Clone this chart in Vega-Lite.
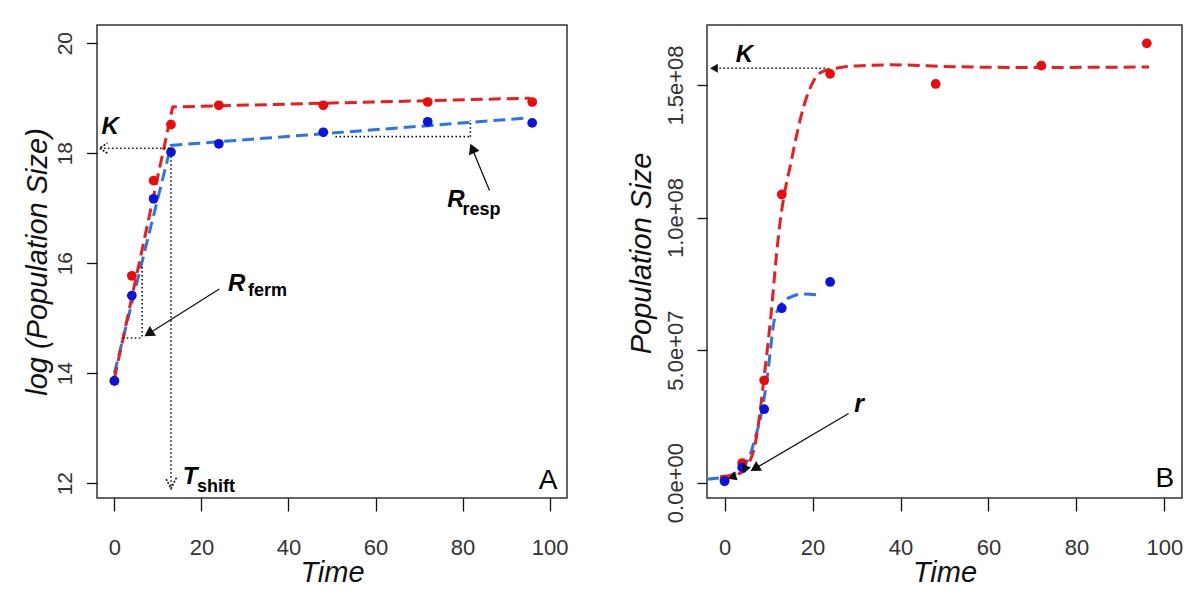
{
  "$schema": "https://vega.github.io/schema/vega-lite/v6.json",
  "padding": {"left": 22, "top": 24, "right": 5, "bottom": 5},
  "background": "white",
  "spacing": 140,
  "bounds": "flush",
  "config": {
    "view": {"stroke": "#333333", "strokeWidth": 1.5},
    "axis": {
      "domain": false, "grid": false, "tickColor": "#111111", "tickWidth": 1.3,
      "labelFont": "Liberation Sans Narrow, Liberation Sans, Arial", "labelColor": "#333333", "labelFontWeight": "normal",
      "titleFont": "Liberation Sans", "titleFontStyle": "italic", "titleFontWeight": "normal", "titleFontSize": 29, "titleColor": "#111111"
    }
  },
  "datasets": {
    "ptsA": [
      {"series": "red", "t": 0, "v": 13.86}, {"series": "red", "t": 4, "v": 15.77}, {"series": "red", "t": 9, "v": 17.5}, {"series": "red", "t": 13, "v": 18.52},
      {"series": "red", "t": 24, "v": 18.87}, {"series": "red", "t": 48, "v": 18.87}, {"series": "red", "t": 72, "v": 18.93}, {"series": "red", "t": 96, "v": 18.93},
      {"series": "blue", "t": 0, "v": 13.86}, {"series": "blue", "t": 4, "v": 15.41}, {"series": "blue", "t": 9, "v": 17.17}, {"series": "blue", "t": 13, "v": 18.02},
      {"series": "blue", "t": 24, "v": 18.17}, {"series": "blue", "t": 48, "v": 18.38}, {"series": "blue", "t": 72, "v": 18.57}, {"series": "blue", "t": 96, "v": 18.55}
    ],
    "fitA": [
      {"series": "red", "t": 0, "v": 13.9}, {"series": "red", "t": 13.4, "v": 18.84}, {"series": "red", "t": 95.5, "v": 19.0},
      {"series": "blue", "t": 0, "v": 14.0}, {"series": "blue", "t": 13.0, "v": 18.14}, {"series": "blue", "t": 95, "v": 18.64}
    ],
    "ptsB": [
      {"series": "red", "t": 0, "v": 1100000}, {"series": "red", "t": 4, "v": 7400000}, {"series": "red", "t": 9, "v": 38600000}, {"series": "red", "t": 13, "v": 108700000},
      {"series": "red", "t": 24, "v": 154200000}, {"series": "red", "t": 48, "v": 150400000}, {"series": "red", "t": 72, "v": 157300000}, {"series": "red", "t": 96, "v": 165700000},
      {"series": "blue", "t": 0, "v": 500000}, {"series": "blue", "t": 4, "v": 5700000}, {"series": "blue", "t": 9, "v": 27700000}, {"series": "blue", "t": 13, "v": 65800000},
      {"series": "blue", "t": 24, "v": 75700000}
    ],
    "fitB": [
      {"series": "red", "t": -1, "v": 2200000}, {"series": "red", "t": 2, "v": 2800000}, {"series": "red", "t": 4, "v": 4000000}, {"series": "red", "t": 5.5, "v": 7200000},
      {"series": "red", "t": 7.0, "v": 15000000}, {"series": "red", "t": 8.2, "v": 28500000}, {"series": "red", "t": 8.9, "v": 38600000}, {"series": "red", "t": 9.7, "v": 50000000},
      {"series": "red", "t": 10.5, "v": 62400000}, {"series": "red", "t": 11.2, "v": 75000000}, {"series": "red", "t": 11.8, "v": 86000000}, {"series": "red", "t": 12.6, "v": 98000000},
      {"series": "red", "t": 13.5, "v": 108000000}, {"series": "red", "t": 15, "v": 120000000}, {"series": "red", "t": 16.5, "v": 132000000}, {"series": "red", "t": 18, "v": 142000000},
      {"series": "red", "t": 19.5, "v": 149000000}, {"series": "red", "t": 21, "v": 153500000}, {"series": "red", "t": 23, "v": 155500000}, {"series": "red", "t": 26, "v": 156500000},
      {"series": "red", "t": 30, "v": 157200000}, {"series": "red", "t": 38, "v": 157600000}, {"series": "red", "t": 52, "v": 156900000}, {"series": "red", "t": 70, "v": 156600000},
      {"series": "red", "t": 96.5, "v": 156800000},
      {"series": "blue", "t": -4, "v": 1300000}, {"series": "blue", "t": -0.2, "v": 2100000}, {"series": "blue", "t": 3.6, "v": 4600000}, {"series": "blue", "t": 4.8, "v": 7200000},
      {"series": "blue", "t": 5.9, "v": 10900000}, {"series": "blue", "t": 7.0, "v": 17200000}, {"series": "blue", "t": 8.2, "v": 24700000}, {"series": "blue", "t": 8.9, "v": 31000000},
      {"series": "blue", "t": 9.7, "v": 39800000}, {"series": "blue", "t": 10.5, "v": 51100000}, {"series": "blue", "t": 11.2, "v": 60500000}, {"series": "blue", "t": 12.7, "v": 66800000},
      {"series": "blue", "t": 15, "v": 70000000}, {"series": "blue", "t": 18, "v": 71200000}, {"series": "blue", "t": 21.8, "v": 70600000}
    ],
    "dotA": [
      {"x": -3.3, "y": 18.09, "x2": 13.0, "y2": 18.09},
      {"x": 13.0, "y": 18.09, "x2": 13.0, "y2": 11.92},
      {"x": 6.37, "y": 15.93, "x2": 6.37, "y2": 14.64},
      {"x": 1.93, "y": 14.64, "x2": 6.37, "y2": 14.64},
      {"x": 50.8, "y": 18.3, "x2": 81.8, "y2": 18.3},
      {"x": 81.8, "y": 18.3, "x2": 81.8, "y2": 18.6}
    ],
    "arrA": [
      {"x": 24.1, "y": 15.53, "x2": 7.3, "y2": 14.69},
      {"x": 86.2, "y": 17.32, "x2": 82.0, "y2": 18.12}
    ],
    "headA": [
      {"name": "ferm", "t": 6.9, "v": 14.67},
      {"name": "resp", "t": 81.8, "v": 18.17},
      {"name": "K", "t": -3.4, "v": 18.09},
      {"name": "Tshift", "t": 13.0, "v": 11.9}
    ],
    "bigA": [
      {"label": "K", "t": -1, "v": 18.35, "pos": "c"},
      {"label": "T", "t": 15.7, "v": 11.99, "pos": "l"},
      {"label": "R", "t": 26.1, "v": 15.5, "pos": "l"},
      {"label": "R", "t": 76.5, "v": 17.03, "pos": "l"}
    ],
    "subA": [
      {"label": "shift", "t": 19.0, "v": 11.84},
      {"label": "ferm", "t": 30.7, "v": 15.41},
      {"label": "resp", "t": 80.0, "v": 16.87}
    ],
    "dotB": [
      {"x": -3.0, "y": 156300000, "x2": 23, "y2": 156300000}
    ],
    "arrB": [
      {"x": 28.2, "y": 26100000, "x2": 6.3, "y2": 4700000}
    ],
    "headB": [
      {"name": "K", "t": -3.3, "v": 156300000},
      {"name": "r", "t": 5.9, "v": 4400000},
      {"name": "s1", "t": 0.8, "v": 1500000},
      {"name": "s2", "t": 4.3, "v": 3400000}
    ]
  },
  "hconcat": [
    {
      "width": 470, "height": 473,
      "encoding": {
        "x": {"field": "t", "type": "quantitative", "scale": {"domain": [-4, 104], "nice": false, "zero": false},
          "axis": {"values": [0, 20, 40, 60, 80, 100], "tickSize": 13, "labelFontSize": 22, "labelBaseline": "alphabetic", "labelPadding": 43.5,
            "title": "Time", "titleX": 235, "titleY": 83.5, "titleBaseline": "alphabetic", "titleAlign": "center", "titleAnchor": null}},
        "y": {"field": "v", "type": "quantitative", "scale": {"domain": [11.73, 20.33], "nice": false, "zero": false},
          "axis": {"values": [12, 14, 16, 18, 20], "tickSize": 10.5, "labelFontSize": 21, "labelAngle": 270, "labelAlign": "center", "labelBaseline": "alphabetic", "labelPadding": 15.5,
            "title": "log (Population Size)", "titleAngle": 270, "titleX": -50.5, "titleY": 236.5, "titleBaseline": "alphabetic", "titleAlign": "center", "titleAnchor": null}}
      },
      "layer": [
        {"data": {"name": "fitA"}, "transform": [{"filter": "datum.series === 'blue'"}], "mark": {"type": "line", "color": "#2a76e8", "strokeWidth": 3, "strokeDash": [12, 6]}},
        {"data": {"name": "fitA"}, "transform": [{"filter": "datum.series === 'red'"}], "mark": {"type": "line", "color": "#ee1c1c", "strokeWidth": 3, "strokeDash": [12, 6]}},
        {"data": {"name": "ptsA"}, "transform": [{"filter": "datum.series === 'red'"}], "mark": {"type": "point", "filled": true, "size": 95, "opacity": 1, "color": "#ee0a0a"}},
        {"data": {"name": "ptsA"}, "transform": [{"filter": "datum.series === 'blue'"}], "mark": {"type": "point", "filled": true, "size": 95, "opacity": 1, "color": "#0a14e0"}},
        {"data": {"name": "dotA"}, "mark": {"type": "rule", "color": "#111111", "strokeWidth": 1.6, "strokeDash": [1.5, 2.5]},
          "encoding": {"x": {"field": "x", "type": "quantitative"}, "y": {"field": "y", "type": "quantitative"}, "x2": {"field": "x2"}, "y2": {"field": "y2"}}},
        {"data": {"name": "arrA"}, "mark": {"type": "rule", "color": "#111111", "strokeWidth": 1.3},
          "encoding": {"x": {"field": "x", "type": "quantitative"}, "y": {"field": "y", "type": "quantitative"}, "x2": {"field": "x2"}, "y2": {"field": "y2"}}},
        {"data": {"name": "headA"}, "transform": [{"filter": "datum.name === 'ferm'"}], "mark": {"type": "point", "shape": "M0,0L-1.15,2L1.15,2Z", "filled": true, "opacity": 1, "color": "#111111", "size": 100, "angle": 237.5}},
        {"data": {"name": "headA"}, "transform": [{"filter": "datum.name === 'resp'"}], "mark": {"type": "point", "shape": "M0,0L-1.15,2L1.15,2Z", "filled": true, "opacity": 1, "color": "#111111", "size": 100, "angle": 337.5}},
        {"data": {"name": "headA"}, "transform": [{"filter": "datum.name === 'K'"}], "mark": {"type": "point", "shape": "M-1.3,2L0,0L1.3,2", "filled": false, "opacity": 1, "color": "#111111", "strokeWidth": 1.6, "strokeDash": [2, 1.5], "size": 60, "angle": 270}},
        {"data": {"name": "headA"}, "transform": [{"filter": "datum.name === 'Tshift'"}], "mark": {"type": "point", "shape": "M-1,2L0,0L1,2", "filled": false, "opacity": 1, "color": "#111111", "strokeWidth": 1.6, "strokeDash": [2, 1.5], "size": 120, "angle": 180}},
        {"data": {"name": "bigA"}, "transform": [{"filter": "datum.pos === 'c'"}], "mark": {"type": "text", "font": "Liberation Sans", "fontSize": 24, "fontWeight": "bold", "fontStyle": "italic", "align": "center", "baseline": "alphabetic", "color": "#000000"},
          "encoding": {"text": {"field": "label"}}},
        {"data": {"name": "bigA"}, "transform": [{"filter": "datum.pos === 'l'"}], "mark": {"type": "text", "font": "Liberation Sans", "fontSize": 24, "fontWeight": "bold", "fontStyle": "italic", "align": "left", "baseline": "alphabetic", "color": "#000000"},
          "encoding": {"text": {"field": "label"}}},
        {"data": {"name": "subA"}, "mark": {"type": "text", "font": "Liberation Sans", "fontSize": 18, "fontWeight": "bold", "align": "left", "baseline": "alphabetic", "color": "#000000"},
          "encoding": {"text": {"field": "label"}}},
        {"data": {"values": [{"label": "A", "t": 101.8, "v": 11.9}]}, "mark": {"type": "text", "font": "Liberation Sans", "fontSize": 28, "align": "right", "baseline": "alphabetic", "color": "#000000"},
          "encoding": {"text": {"field": "label"}}}
      ]
    },
    {
      "width": 475, "height": 473,
      "encoding": {
        "x": {"field": "t", "type": "quantitative", "scale": {"domain": [-4, 104], "nice": false, "zero": false},
          "axis": {"values": [0, 20, 40, 60, 80, 100], "tickSize": 13, "labelFontSize": 22, "labelBaseline": "alphabetic", "labelPadding": 43.5,
            "title": "Time", "titleX": 237.5, "titleY": 83.5, "titleBaseline": "alphabetic", "titleAlign": "center", "titleAnchor": null}},
        "y": {"field": "v", "type": "quantitative", "scale": {"domain": [-5800000, 172630000], "nice": false, "zero": false},
          "axis": {"values": [0, 50000000, 100000000, 150000000], "tickSize": 10, "labelFontSize": 22, "labelAngle": 270, "labelAlign": "center", "labelBaseline": "alphabetic", "labelPadding": 15,
            "labelExpr": "datum.value === 0 ? '0.0e+00' : datum.value === 50000000 ? '5.0e+07' : datum.value === 100000000 ? '1.0e+08' : '1.5e+08'",
            "title": "Population Size", "titleAngle": 270, "titleX": -56.4, "titleY": 228, "titleBaseline": "alphabetic", "titleAlign": "center", "titleAnchor": null}}
      },
      "layer": [
        {"data": {"name": "fitB"}, "transform": [{"filter": "datum.series === 'blue'"}], "mark": {"type": "line", "color": "#2a76e8", "strokeWidth": 3, "strokeDash": [12, 6], "interpolate": "monotone", "clip": true}},
        {"data": {"name": "fitB"}, "transform": [{"filter": "datum.series === 'red'"}], "mark": {"type": "line", "color": "#ee1c1c", "strokeWidth": 3, "strokeDash": [12, 6], "interpolate": "monotone", "clip": true}},
        {"data": {"name": "ptsB"}, "transform": [{"filter": "datum.series === 'red'"}], "mark": {"type": "point", "filled": true, "size": 95, "opacity": 1, "color": "#ee0a0a"}},
        {"data": {"name": "ptsB"}, "transform": [{"filter": "datum.series === 'blue'"}], "mark": {"type": "point", "filled": true, "size": 95, "opacity": 1, "color": "#0a14e0"}},
        {"data": {"name": "dotB"}, "mark": {"type": "rule", "color": "#111111", "strokeWidth": 1.6, "strokeDash": [1.5, 2.5]},
          "encoding": {"x": {"field": "x", "type": "quantitative"}, "y": {"field": "y", "type": "quantitative"}, "x2": {"field": "x2"}, "y2": {"field": "y2"}}},
        {"data": {"name": "arrB"}, "mark": {"type": "rule", "color": "#111111", "strokeWidth": 1.3},
          "encoding": {"x": {"field": "x", "type": "quantitative"}, "y": {"field": "y", "type": "quantitative"}, "x2": {"field": "x2"}, "y2": {"field": "y2"}}},
        {"data": {"name": "headB"}, "transform": [{"filter": "datum.name === 'K'"}], "mark": {"type": "point", "shape": "M0,0L-1.15,2L1.15,2Z", "filled": true, "opacity": 1, "color": "#111111", "size": 60, "angle": 270}},
        {"data": {"name": "headB"}, "transform": [{"filter": "datum.name === 'r'"}], "mark": {"type": "point", "shape": "M0,0L-1.15,2L1.15,2Z", "filled": true, "opacity": 1, "color": "#111111", "size": 100, "angle": 239.2}},
        {"data": {"name": "headB"}, "transform": [{"filter": "datum.name === 's1'"}], "mark": {"type": "point", "shape": "M0,0L-1.15,2L1.15,2Z", "filled": true, "opacity": 1, "color": "#111111", "size": 70, "angle": 250}},
        {"data": {"name": "headB"}, "transform": [{"filter": "datum.name === 's2'"}], "mark": {"type": "point", "shape": "M0,0L-1.15,2L1.15,2Z", "filled": true, "opacity": 1, "color": "#111111", "size": 70, "angle": 200}},
        {"data": {"values": [{"label": "K", "t": 4.5, "v": 158500000}]}, "mark": {"type": "text", "font": "Liberation Sans", "fontSize": 24, "fontWeight": "bold", "fontStyle": "italic", "align": "center", "baseline": "alphabetic", "color": "#000000"},
          "encoding": {"text": {"field": "label"}}},
        {"data": {"values": [{"label": "r", "t": 29.5, "v": 26600000}]}, "mark": {"type": "text", "font": "Liberation Sans", "fontSize": 25, "fontWeight": "bold", "fontStyle": "italic", "align": "left", "baseline": "alphabetic", "color": "#000000"},
          "encoding": {"text": {"field": "label"}}},
        {"data": {"values": [{"label": "B", "t": 102.2, "v": -1550000}]}, "mark": {"type": "text", "font": "Liberation Sans", "fontSize": 28, "align": "right", "baseline": "alphabetic", "color": "#000000"},
          "encoding": {"text": {"field": "label"}}}
      ]
    }
  ]
}
